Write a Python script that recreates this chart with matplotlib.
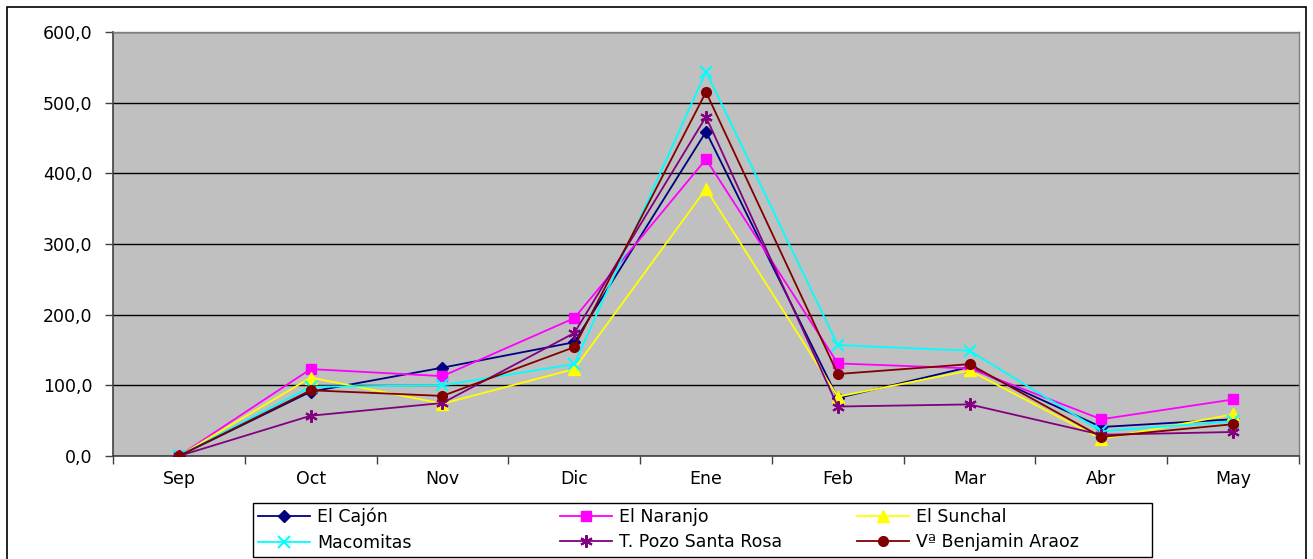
import matplotlib
matplotlib.use("Agg")
import matplotlib.pyplot as plt
from matplotlib.patches import Rectangle
from matplotlib.ticker import FuncFormatter, FixedLocator

months = ["Sep", "Oct", "Nov", "Dic", "Ene", "Feb", "Mar", "Abr", "May"]
el_cajon = [0, 91, 125, 161, 459, 82, 126, 41, 52]
el_naranjo = [0, 123, 113, 195, 420, 131, 124, 52, 80]
el_sunchal = [0, 111, 74, 123, 378, 84, 121, 24, 59]
macomitas = [0, 98, 100, 130, 544, 157, 149, 35, 49]
pozo_santa_rosa = [0, 57, 75, 174, 480, 70, 73, 30, 34]
benjamin_araoz = [0, 93, 85, 154, 515, 116, 130, 27, 45]

series = [
    ("El Cajón", el_cajon, "#000080", "D", 6),
    ("El Naranjo", el_naranjo, "#FF00FF", "s", 7),
    ("El Sunchal", el_sunchal, "#FFFF00", "^", 8),
    ("Macomitas", macomitas, "#00FFFF", "x", 8),
    ("T. Pozo Santa Rosa", pozo_santa_rosa, "#800080", (6, 2, 0), 9),
    ("Vª Benjamin Araoz", benjamin_araoz, "#800000", "o", 7),
]

plt.rcParams['font.family'] = ['DejaVu Sans']
FS = 12.5

W, H = 1313, 559
fig = plt.figure(figsize=(W / 100, H / 100), dpi=100)
fig.patch.set_facecolor("white")

ax = fig.add_axes([113 / W, 1 - 456 / H, (1299 - 113) / W, (456 - 32) / H])
ax.set_facecolor("#C0C0C0")

x = list(range(len(months)))
handles = []
for name, vals, color, marker, ms in series:
    mew = 1.5 if marker in ("x",) or isinstance(marker, tuple) else 1
    h, = ax.plot(x, vals, color=color, marker=marker, markersize=ms, lw=1.3,
                 markeredgecolor=color, markerfacecolor=color, markeredgewidth=mew,
                 label=name, zorder=3)
    handles.append(h)

ax.set_xlim(-0.5, len(months) - 0.5)
ax.set_ylim(0, 600)
ax.set_yticks(range(0, 601, 100))
ax.yaxis.set_major_formatter(FuncFormatter(lambda v, p: f"{v:.1f}".replace(".", ",")))
ax.set_xticks(x)
ax.set_xticklabels(months)
ax.xaxis.set_minor_locator(FixedLocator([i - 0.5 for i in range(len(months) + 1)]))
ax.tick_params(axis="x", which="major", length=0, labelsize=FS, pad=10)
ax.tick_params(axis="x", which="minor", length=6, width=1, color="#404040", direction="out")
ax.tick_params(axis="y", length=6, width=1, color="#404040", labelsize=FS, pad=9)
ax.grid(axis="y", color="black", lw=1, zorder=1)
ax.set_axisbelow(True)
for s in ["top", "right"]:
    ax.spines[s].set_color("#808080")
    ax.spines[s].set_linewidth(1)
for s in ["left", "bottom"]:
    ax.spines[s].set_color("#404040")
    ax.spines[s].set_linewidth(1.2)

# legend: three equally spaced columns, framed box
col_x = [258, 560, 857]
for c in range(3):
    idx = [c, c + 3]
    lg = fig.legend([handles[i] for i in idx], [series[i][0] for i in idx],
                    loc="upper left", bbox_to_anchor=(col_x[c] / W, 1 - 508 / H),
                    bbox_transform=fig.transFigure, fontsize=FS, frameon=False,
                    handlelength=3.0, handletextpad=0.4, borderpad=0,
                    labelspacing=0.42, borderaxespad=0)
fig.patches.append(Rectangle((253 / W, 1 - 557 / H), (1152 - 253) / W, (557 - 503) / H,
                             transform=fig.transFigure, fill=False,
                             edgecolor="black", lw=1))

fig.patches.append(Rectangle((7 / W, -0.02), (1306 - 7) / W, 1.02 - 7 / H,
                             transform=fig.transFigure, fill=False,
                             edgecolor="black", lw=1.2))

fig.savefig("out.png", dpi=100)
